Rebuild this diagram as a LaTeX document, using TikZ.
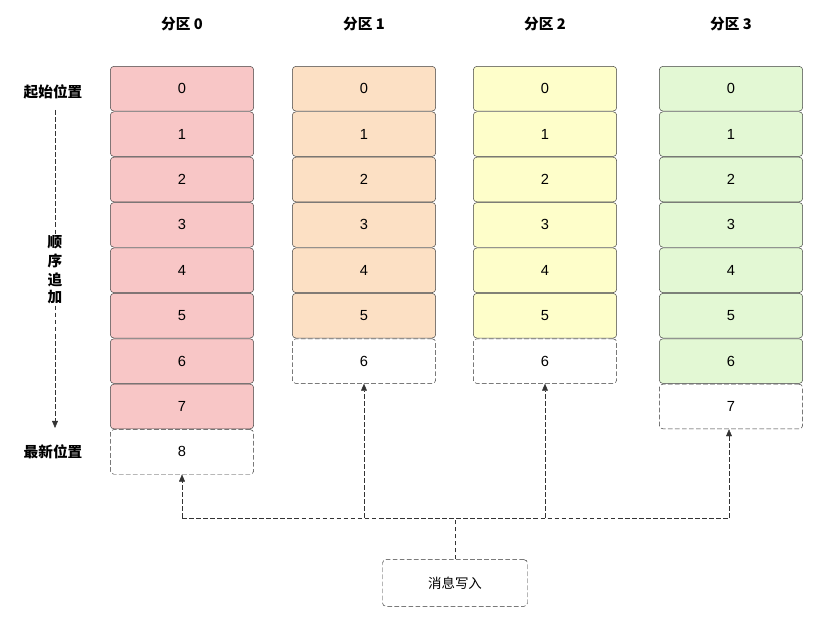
\documentclass[tikz,border=0pt]{standalone}
\usepackage{fontspec}
\setmainfont{Liberation Sans}
\newfontfamily\cjk{Noto Sans CJK SC}
\usetikzlibrary{arrows.meta}
\begin{document}
\begin{tikzpicture}[x=0.03cm,y=-0.03cm,
 cell/.style={draw=black!75,rounded corners=3pt,minimum width=4.3cm,minimum height=1.34cm,inner sep=0pt,font=\fontsize{12.5}{12}\selectfont},
 dcell/.style={draw=black!80,dash pattern=on 4pt off 2pt,rounded corners=3pt,minimum width=4.3cm,minimum height=1.34cm,inner sep=0pt,font=\fontsize{12.5}{12}\selectfont,fill=white},
 hdr/.style={font=\cjk\bfseries\fontsize{12.5}{12}\selectfont},
 dl/.style={draw=black!80,dash pattern=on 4pt off 2pt},
 con/.style={dl,-{Triangle[length=6pt,width=5pt]}}]
\useasboundingbox (0,0) rectangle (825,621);
\definecolor{c0}{HTML}{F8C6C6}\definecolor{c1}{HTML}{FCE0C4}
\definecolor{c2}{HTML}{FEFECA}\definecolor{c3}{HTML}{E3F8D4}
\def\rowy#1{66+22.7+45.4*#1}
\node[hdr] (h0) at (182,24) {分区 0};
\foreach \i in {0,...,7}{\node[cell,fill=c0] (a\i) at (182,{\rowy{\i}}) {\i};}
\node[dcell] (a8) at (182,{\rowy{8}}) {8};
\node[hdr] (h1) at (364,24) {分区 1};
\foreach \i in {0,...,5}{\node[cell,fill=c1] (b\i) at (364,{\rowy{\i}}) {\i};}
\node[dcell] (b6) at (364,{\rowy{6}}) {6};
\node[hdr] (h2) at (545,24) {分区 2};
\foreach \i in {0,...,5}{\node[cell,fill=c2] (c\i) at (545,{\rowy{\i}}) {\i};}
\node[dcell] (c6) at (545,{\rowy{6}}) {6};
\node[hdr] (h3) at (731,24) {分区 3};
\foreach \i in {0,...,6}{\node[cell,fill=c3] (d\i) at (731,{\rowy{\i}}) {\i};}
\node[dcell] (d7) at (731,{\rowy{7}}) {7};
\node[hdr] (start) at (53,92) {起始位置};
\node[hdr] (latest) at (53,452) {最新位置};
\node[hdr,align=center,fill=white,inner sep=1pt] (seq) at (55,270) {顺\\[3pt]序\\[3pt]追\\[3pt]加};
\coordinate (s0) at (55,110);
\coordinate (s1) at (55,428);
\draw[dl] (s0) -- (seq.north);
\draw[con] (seq.south) -- (s1);
\node[dcell,minimum width=4.35cm,minimum height=1.4cm,font=\cjk\fontsize{11.5}{11}\selectfont] (w) at (455,583) {消息写入};
\coordinate (j) at (455,518);
\coordinate (jl) at (182,518);
\coordinate (jr) at (729,518);
\draw[dl] (w.north) -- (j);
\draw[dl] (jl) -- (jr);
\draw[con] (jl) -- (a8.south);
\draw[con] (364,518) -- (b6.south);
\draw[con] (545,518) -- (c6.south);
\draw[con] (jr) -- (729,{66+45.4*8});
\end{tikzpicture}
\end{document}
